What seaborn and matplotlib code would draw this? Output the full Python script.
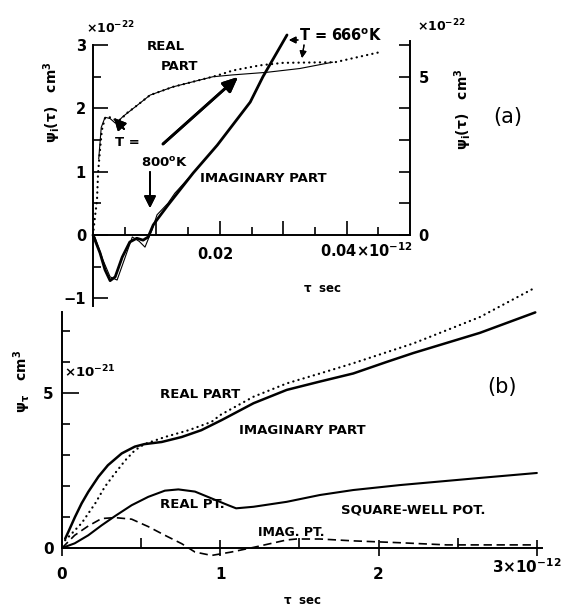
"""
Recreation of a two-panel scanned figure: psi(tau) real / imaginary parts.
"""

import numpy as np
import matplotlib
matplotlib.use("Agg")
import matplotlib.pyplot as plt
from matplotlib.ticker import FixedLocator
import seaborn as sns


# --- Panel (a): tau in units of 1e-12 s, psi in units of 1e-22 cm^3 ---
A_REAL_T = [0, 0.0003, 0.00063, 0.0008, 0.0011, 0.0014, 0.0019, 0.0027, 0.0035,
            0.0043, 0.0054, 0.0066, 0.009, 0.0126, 0.0169, 0.0196, 0.0221,
            0.0263, 0.030, 0.0382, 0.0453]
A_REAL_V = [0, 0.28, 0.55, 0.98, 1.34, 1.66, 1.85, 1.86, 1.82,
            1.82, 1.93, 2.02, 2.21, 2.34, 2.45, 2.52, 2.60,
            2.68, 2.72, 2.73, 2.89]

A_REAL_THIN_T = [0.0009, 0.0013, 0.0019, 0.0027, 0.0035, 0.0039, 0.0047, 0.0066,
                 0.009, 0.0126, 0.0169, 0.0189, 0.0221, 0.0274, 0.0326, 0.0378]
A_REAL_THIN_V = [1.2, 1.7, 1.86, 1.84, 1.77, 1.79, 1.87, 2.02,
                 2.21, 2.34, 2.45, 2.50, 2.53, 2.57, 2.63, 2.73]

A_IMAG_T = [0, 0.0011, 0.0019, 0.0027, 0.0035, 0.0046, 0.0058, 0.0069, 0.0079,
            0.0087, 0.0095, 0.0103, 0.0118, 0.0158, 0.0196, 0.0248, 0.0268, 0.0306]
A_IMAG_V = [0, -0.28, -0.55, -0.72, -0.66, -0.35, -0.11, -0.05, -0.08,
            -0.03, 0.16, 0.27, 0.47, 0.98, 1.42, 2.10, 2.50, 3.16]

A_IMAG_THIN_T = [0.0003, 0.0016, 0.0027, 0.0038, 0.0049, 0.0062, 0.0073, 0.0082,
                 0.0093, 0.0101, 0.0118, 0.0129, 0.0158]
A_IMAG_THIN_V = [-0.03, -0.40, -0.66, -0.71, -0.40, -0.03, -0.10, -0.19,
                 0.08, 0.32, 0.50, 0.66, 0.98]

# --- Panel (b): tau in units of 1e-12 s, psi in units of 1e-21 cm^3 ---
B_REAL_T = [0.02, 0.04, 0.124, 0.21, 0.27, 0.335, 0.40, 0.46, 0.52, 0.65, 0.80,
            0.945, 1.0, 1.21, 1.42, 1.63, 1.84, 2.22, 2.64, 2.99]
B_REAL_V = [0.25, 0.35, 0.80, 1.44, 1.97, 2.41, 2.83, 3.15, 3.35, 3.58, 3.80,
            4.07, 4.29, 4.88, 5.31, 5.63, 5.96, 6.60, 7.45, 8.40]

B_IMAG_T = [0.02, 0.04, 0.082, 0.124, 0.166, 0.23, 0.29, 0.377, 0.46, 0.52, 0.63,
            0.756, 0.88, 1.01, 1.21, 1.42, 1.63, 1.84, 2.05, 2.22, 2.64, 2.99]
B_IMAG_V = [0.30, 0.52, 1.0, 1.44, 1.81, 2.30, 2.67, 3.05, 3.27, 3.35, 3.42,
            3.58, 3.80, 4.13, 4.67, 5.10, 5.37, 5.63, 6.00, 6.29, 6.94, 7.60]

SW_REAL_T = [0, 0.08, 0.166, 0.25, 0.335, 0.44, 0.545, 0.65, 0.735, 0.84, 0.945,
             1.05, 1.10, 1.21, 1.42, 1.63, 1.84, 2.135, 2.64, 3.0]
SW_REAL_V = [0, 0.15, 0.41, 0.73, 1.03, 1.38, 1.65, 1.85, 1.89, 1.82, 1.60,
             1.38, 1.28, 1.33, 1.49, 1.71, 1.87, 2.03, 2.26, 2.42]

SW_IMAG_T = [0, 0.08, 0.166, 0.25, 0.335, 0.44, 0.545, 0.65, 0.756, 0.84, 0.945,
             1.07, 1.21, 1.42, 1.48, 1.63, 1.84, 2.135, 2.43, 2.99]
SW_IMAG_V = [0, 0.41, 0.71, 0.95, 0.98, 0.93, 0.69, 0.41, 0.14, -0.13, -0.24,
             -0.13, 0.02, 0.26, 0.29, 0.29, 0.23, 0.17, 0.10, 0.10]

W, H = 566, 607
FS = 9.5
DOT = dict(linestyle=(0, (0.1, 2.3)), dash_capstyle="round", linewidth=1.6)
DASH = dict(linestyle=(0, (5, 2.8)), linewidth=1.2)


def fx(x):
    return x / W


def fy(y):
    return 1 - y / H


def label(fig, x, y, s, size=FS, weight="bold", **kw):
    fig.text(fx(x), fy(y), s, fontsize=size, ha="center", va="center",
             fontweight=weight, **kw)


def arrow(fig, tail, head, lw=1.2, hw=0.35, hl=0.7):
    fig.add_artist(plt.annotate(
        "", xy=(fx(head[0]), fy(head[1])), xytext=(fx(tail[0]), fy(tail[1])),
        xycoords="figure fraction", textcoords="figure fraction",
        arrowprops=dict(arrowstyle=f"-|>,head_width={hw},head_length={hl}",
                        color="black", lw=lw, shrinkA=0, shrinkB=0)))


def line(ax, t, v, **kw):
    sns.lineplot(x=t, y=v, ax=ax, color="black", estimator=None, sort=False,
                 legend=False, **kw)


sns.set_style("ticks")
plt.rcParams["font.family"] = ["DejaVu Sans"]
plt.rcParams["mathtext.fontset"] = "dejavusans"
plt.rcParams["mathtext.default"] = "bf"
for key in ["text.color", "axes.labelcolor", "xtick.color", "ytick.color",
            "axes.edgecolor"]:
    plt.rcParams[key] = "black"
plt.rcParams["font.weight"] = "bold"

fig = plt.figure(figsize=(W / 100, H / 100), dpi=100)

# ---------------- panel (a) ----------------
ax = fig.add_axes([fx(93), fy(306), 317 / W, 279.9 / H])
ax.patch.set_visible(False)
line(ax, A_REAL_T, A_REAL_V, **DOT)
line(ax, A_REAL_THIN_T, A_REAL_THIN_V, linewidth=0.8)
line(ax, A_IMAG_T, A_IMAG_V, linewidth=2.0)
line(ax, A_IMAG_THIN_T, A_IMAG_THIN_V, linewidth=0.8)
ax.set_xlim(0, 0.05)
ax.set_ylim(-1.12, 3.3)
for l in ax.lines:
    l.set_clip_on(False)
ax.spines["top"].set_visible(False)
ax.spines["right"].set_visible(False)
ax.spines["bottom"].set_position(("data", 0))
ax.spines["bottom"].set_bounds(0, 0.05)
ax.spines["left"].set_bounds(-1.12, 3.0)
ax.set_yticks([-1, 0, 1, 2, 3])
ax.set_yticklabels(["\u22121", "0", "1", "2", "3"])
ax.yaxis.set_minor_locator(FixedLocator([-0.5, 0.5, 1.5, 2.5]))
ax.set_xticks([0.01, 0.02, 0.03, 0.04])
ax.set_xticklabels([])
ax.xaxis.set_minor_locator(FixedLocator([0.005, 0.015, 0.025, 0.035, 0.045]))
ax.tick_params(axis="y", which="major", direction="in", length=11, width=1.2,
               labelsize=10.5, pad=5)
ax.tick_params(axis="y", which="minor", direction="in", length=6, width=1.2)
ax.tick_params(axis="x", which="major", direction="in", length=10, width=1.2)
ax.tick_params(axis="x", which="minor", direction="in", length=6, width=1.2)
for s in ax.spines.values():
    s.set_linewidth(1.4)
ax.set_xlabel("")
ax.set_ylabel("")

ax2 = ax.twinx()
ax2.patch.set_visible(False)
ax2.set_ylim(-2.24, 6.6)
for k in ["top", "left", "bottom"]:
    ax2.spines[k].set_visible(False)
ax2.spines["right"].set_bounds(0, 6.12)
ax2.spines["right"].set_linewidth(1.4)
ax2.set_yticks([0, 1, 2, 3, 4, 5, 6])
ax2.set_yticklabels(["0", "", "", "", "", "5", ""])
ax2.tick_params(axis="y", direction="in", length=8, width=1.2, labelsize=10.5, pad=6)

label(fig, 166, 47, "REAL")
label(fig, 179, 67, "PART")
label(fig, 127, 143, "T =")
label(fig, 165, 163, "800$^o$K")
label(fig, 263, 178, "IMAGINARY PART")
label(fig, 341, 36, "T = 666$^o$K", size=10.5)
label(fig, 508, 117, "(a)", size=15, weight="normal")
label(fig, 110, 28, "\u00d710$^{-22}$", size=9)
label(fig, 441, 26, "\u00d710$^{-22}$", size=9)
label(fig, 52, 102, r"$\psi_i(\tau)$   cm$^3$", size=10, rotation=90)
label(fig, 463, 109, r"$\psi_i(\tau)$   cm$^3$", size=10, rotation=90)
label(fig, 215, 255, "0.02", size=10.5)
label(fig, 366, 251, "0.04\u00d710$^{-12}$", size=10.5)
label(fig, 322, 288, r"$\tau$  sec", size=8.5)

arrow(fig, (163, 144), (238, 77), lw=2.0, hw=0.4, hl=0.9)
arrow(fig, (150, 172), (150, 208), lw=1.4)
arrow(fig, (124, 129), (114, 118), lw=1.4)
arrow(fig, (298, 40), (289, 40), lw=0.9, hw=0.2, hl=0.4)
arrow(fig, (304, 45), (302, 58), lw=0.9, hw=0.2, hl=0.4)

# ---------------- panel (b) ----------------
bx = fig.add_axes([fx(62), fy(563.5), 480.4 / W, 282.1 / H])
bx.patch.set_visible(False)
line(bx, B_REAL_T, B_REAL_V, **DOT)
line(bx, B_IMAG_T, B_IMAG_V, linewidth=1.8)
line(bx, SW_REAL_T, SW_REAL_V, linewidth=1.5)
line(bx, SW_IMAG_T, SW_IMAG_V, **DASH)
bx.set_xlim(0, 3.035)
bx.set_ylim(-0.5, 8.6)
for l in bx.lines:
    l.set_clip_on(False)
bx.spines["top"].set_visible(False)
bx.spines["right"].set_visible(False)
bx.spines["bottom"].set_position(("data", 0))
bx.spines["bottom"].set_bounds(0, 3.035)
bx.spines["left"].set_bounds(0, 7.6)
for s in bx.spines.values():
    s.set_linewidth(1.4)
bx.set_yticks([0, 5])
bx.set_yticklabels(["0", "5"])
bx.yaxis.set_minor_locator(FixedLocator([1, 2, 3, 4, 6, 7]))
bx.set_xticks([0, 1, 2, 3])
bx.set_xticklabels(["0", "1", "2", ""])
bx.xaxis.set_minor_locator(FixedLocator([0.5, 1.5, 2.5]))
bx.tick_params(axis="y", which="major", direction="in", length=12, width=1.2,
               labelsize=11, pad=6)
bx.tick_params(axis="y", which="minor", direction="in", length=6, width=1.2)
bx.tick_params(axis="x", which="major", direction="inout", length=12, width=1.2,
               labelsize=11, pad=8)
bx.tick_params(axis="x", which="minor", direction="in", length=7, width=1.2)
bx.set_xlabel("")
bx.set_ylabel("")

label(fig, 90, 372, "\u00d710$^{-21}$", size=9.5)
label(fig, 200, 395, "REAL PART")
label(fig, 302, 430, "IMAGINARY PART")
label(fig, 502, 387, "(b)", size=15, weight="normal")
label(fig, 192, 505, "REAL PT.")
label(fig, 413, 510, "SQUARE-WELL POT.")
label(fig, 291, 532, "IMAG. PT.", size=9)
label(fig, 527, 567, "3\u00d710$^{-12}$", size=11)
label(fig, 22, 381, r"$\psi_\tau$   cm$^3$", size=10, rotation=90)
label(fig, 302, 600, r"$\tau$  sec", size=8.5)

fig.savefig("out.png", dpi=100)
plt.close(fig)
